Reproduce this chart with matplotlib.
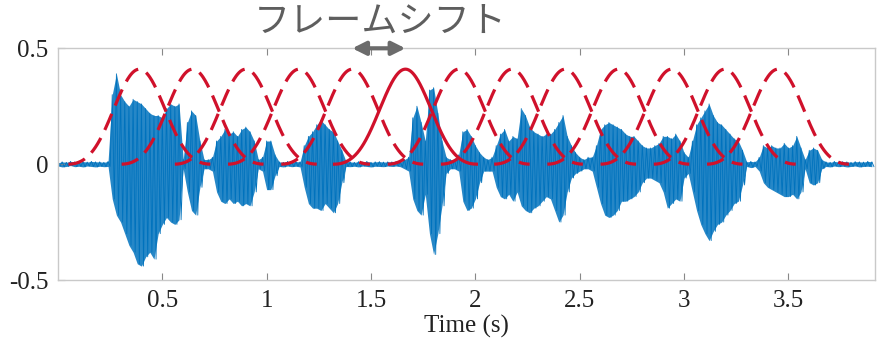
import numpy as np
import matplotlib
matplotlib.use("Agg")
from matplotlib import pyplot as plt

# waveform envelope, one upper/lower peak pair every 20 ms from t = 0 s
frame_step = 0.02
wave_upper = [
    0.006, 0.010, 0.008, 0.012, 0.010, 0.008, 0.011, 0.009, 0.012, 0.010,
    0.010, 0.008, 0.012, 0.30, 0.39, 0.30, 0.27, 0.25, 0.28, 0.27,
    0.26, 0.24, 0.22, 0.21, 0.21, 0.20, 0.24, 0.26, 0.25, 0.26,
    0.02, 0.18, 0.23, 0.21, 0.10, 0.02, 0.02, 0.03, 0.10, 0.12,
    0.15, 0.13, 0.14, 0.12, 0.15, 0.16, 0.14, 0.10, 0.02, 0.03,
    0.10, 0.10, 0.04, 0.010, 0.008, 0.012, 0.009, 0.011, 0.010, 0.08,
    0.12, 0.14, 0.17, 0.19, 0.17, 0.15, 0.14, 0.10, 0.06, 0.012,
    0.010, 0.008, 0.011, 0.009, 0.012, 0.008, 0.010, 0.011, 0.009, 0.010,
    0.010, 0.012, 0.009, 0.02, 0.03, 0.20, 0.25, 0.18, 0.10, 0.32,
    0.33, 0.22, 0.10, 0.03, 0.02, 0.02, 0.04, 0.14, 0.15, 0.12,
    0.08, 0.05, 0.03, 0.02, 0.03, 0.08, 0.13, 0.15, 0.10, 0.12,
    0.11, 0.24, 0.21, 0.16, 0.14, 0.13, 0.12, 0.13, 0.13, 0.15,
    0.18, 0.21, 0.12, 0.08, 0.05, 0.03, 0.02, 0.03, 0.03, 0.08,
    0.15, 0.17, 0.18, 0.17, 0.16, 0.15, 0.13, 0.12, 0.12, 0.10,
    0.08, 0.07, 0.07, 0.08, 0.09, 0.12, 0.12, 0.11, 0.13, 0.10,
    0.05, 0.03, 0.10, 0.17, 0.20, 0.23, 0.26, 0.21, 0.18, 0.17,
    0.15, 0.13, 0.11, 0.10, 0.06, 0.010, 0.012, 0.010, 0.03, 0.08,
    0.07, 0.08, 0.07, 0.07, 0.09, 0.07, 0.08, 0.12, 0.07, 0.02,
    0.06, 0.07, 0.06, 0.02, 0.010, 0.008, 0.012, 0.009, 0.011, 0.010,
    0.008, 0.011, 0.010, 0.009, 0.012, 0.010,
]
wave_lower = [
    -0.008, -0.012, -0.010, -0.006, -0.011, -0.009, -0.012, -0.008, -0.010, -0.012,
    -0.009, -0.011, -0.010, -0.15, -0.22, -0.25, -0.30, -0.35, -0.38, -0.43,
    -0.44, -0.40, -0.38, -0.41, -0.30, -0.26, -0.23, -0.25, -0.26, -0.24,
    -0.02, -0.12, -0.20, -0.22, -0.10, -0.02, -0.02, -0.03, -0.12, -0.16,
    -0.17, -0.15, -0.17, -0.16, -0.18, -0.17, -0.18, -0.12, -0.02, -0.03,
    -0.11, -0.11, -0.05, -0.010, -0.012, -0.008, -0.011, -0.009, -0.012, -0.10,
    -0.17, -0.19, -0.19, -0.20, -0.17, -0.19, -0.21, -0.17, -0.08, -0.010,
    -0.011, -0.009, -0.012, -0.008, -0.010, -0.012, -0.009, -0.010, -0.011, -0.008,
    -0.010, -0.008, -0.011, -0.02, -0.03, -0.15, -0.20, -0.22, -0.13, -0.30,
    -0.39, -0.30, -0.18, -0.04, -0.02, -0.02, -0.03, -0.16, -0.20, -0.19,
    -0.15, -0.08, -0.03, -0.03, -0.03, -0.10, -0.14, -0.15, -0.13, -0.16,
    -0.12, -0.18, -0.20, -0.21, -0.19, -0.18, -0.16, -0.14, -0.15, -0.20,
    -0.25, -0.22, -0.12, -0.06, -0.04, -0.03, -0.02, -0.02, -0.03, -0.10,
    -0.17, -0.22, -0.23, -0.22, -0.20, -0.16, -0.16, -0.15, -0.14, -0.12,
    -0.08, -0.06, -0.06, -0.07, -0.08, -0.12, -0.19, -0.17, -0.15, -0.16,
    -0.06, -0.04, -0.12, -0.20, -0.26, -0.30, -0.33, -0.29, -0.26, -0.25,
    -0.22, -0.20, -0.17, -0.16, -0.09, -0.010, -0.015, -0.010, -0.03, -0.08,
    -0.10, -0.11, -0.12, -0.13, -0.14, -0.14, -0.13, -0.15, -0.12, -0.02,
    -0.08, -0.09, -0.08, -0.02, -0.010, -0.012, -0.008, -0.011, -0.009, -0.012,
    -0.010, -0.008, -0.012, -0.010, -0.009, -0.011,
]

# analysis windows: centres (s), length (s), height; index 5 is highlighted
win_centers = [0.39, 0.645, 0.90, 1.155, 1.41, 1.665, 1.92,
               2.175, 2.43, 2.685, 2.94, 3.195, 3.45]
win_length = 0.68
win_height = 0.41
highlight = 5

x_ticks = [0.5, 1, 1.5, 2, 2.5, 3, 3.5]
x_labels = ["0.5", "1", "1.5", "2", "2.5", "3", "3.5"]
y_ticks = [-0.5, 0, 0.5]
y_labels = ["-0.5", "0", "0.5"]

blue = "#0072BD"
red = "#d0112b"

fig = plt.figure(figsize=(8.81, 3.39), dpi=100)
ax = fig.add_axes([0.0658, 0.174, 0.9274, 0.6835])

# waveform: solid body between the peak envelopes, zigzag on top for texture
up = np.array(wave_upper)
lo = np.array(wave_lower)
t = np.arange(len(up)) * frame_step
wt = np.empty(2 * len(up))
wy = np.empty(2 * len(up))
wt[0::2] = t
wt[1::2] = t + frame_step / 2
wy[0::2] = up
wy[1::2] = lo
ax.fill_between(t, lo, up, color=blue, alpha=0.85, lw=0, zorder=1)
ax.plot(wt, wy, color=blue, lw=0.6, zorder=2)

# windows
for i, c in enumerate(win_centers):
    wx = np.linspace(c - win_length / 2, c + win_length / 2, 200)
    w = np.blackman(200) * win_height
    if i == highlight:
        ax.plot(wx, w, color=red, lw=2.3, zorder=4)
    else:
        ax.plot(wx, w, color=red, lw=2.3, ls=(0, (5.5, 2.8)), zorder=3)

# frame shift arrow and label
ax.annotate("", xy=(win_centers[highlight], 0.5),
            xytext=(win_centers[highlight - 1], 0.5),
            arrowprops=dict(arrowstyle="<|-|>", color="#6b6b6b", lw=3,
                            mutation_scale=20, shrinkA=0, shrinkB=0),
            annotation_clip=False, zorder=6)
fig.text(0.431, 0.935, "フレームシフト", ha="center", va="center",
         fontsize=26, color="#5e5e5e",
         family=["Noto Sans CJK JP", "DejaVu Sans"])

ax.set_xlim(0, 3.915)
ax.set_ylim(-0.5, 0.5)
ax.set_xticks(x_ticks)
ax.set_xticklabels(x_labels)
ax.set_yticks(y_ticks)
ax.set_yticklabels(y_labels)
ax.tick_params(direction="in", length=5, color="#888888", top=True,
               right=False, labelsize=18, labelcolor="#222222", pad=7)
for lab in ax.get_xticklabels() + ax.get_yticklabels():
    lab.set_family("Liberation Serif")
for s in ax.spines.values():
    s.set_color("#c9c9c9")
    s.set_linewidth(1.0)
ax.set_xlabel("Time (s)", fontsize=18, family="Liberation Serif",
              color="#222222", labelpad=2)

fig.savefig("out.png", dpi=100)
